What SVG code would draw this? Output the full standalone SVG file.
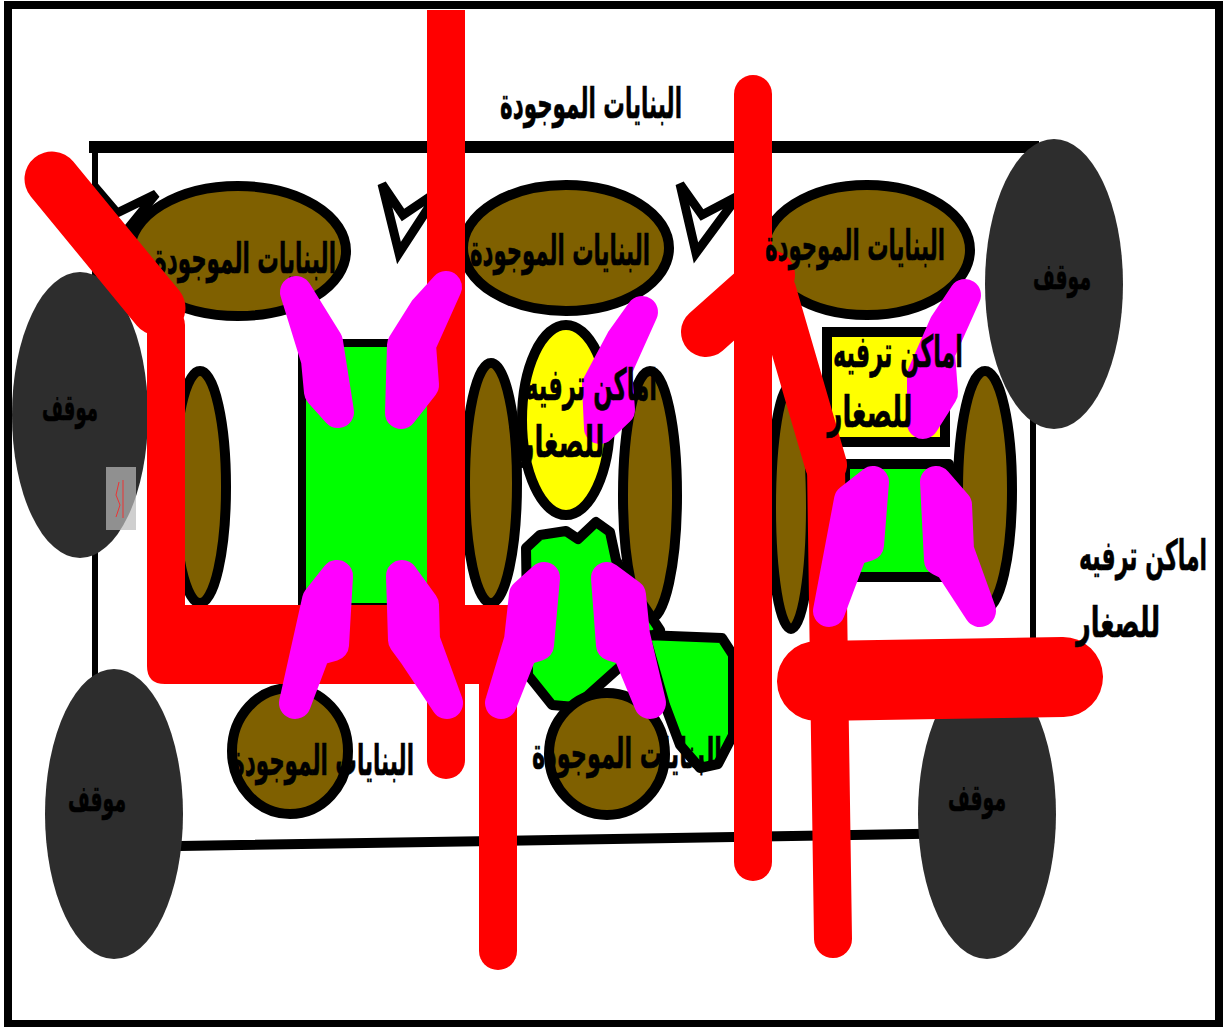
<svg xmlns="http://www.w3.org/2000/svg" width="1223" height="1027" viewBox="0 0 1223 1027">
<style>
.b{fill:#7f6000;stroke:#000;stroke-width:10}
.g{fill:#0f0;stroke:#000;stroke-width:10;stroke-linejoin:round}
.y{fill:#ff0;stroke:#000;stroke-width:10}
.p{fill:#2d2d2d}
.l{fill:none;stroke:#000;stroke-linecap:square}
.v{fill:#fff;stroke:#000;stroke-width:9;stroke-linejoin:miter}
.r{fill:none;stroke:#f00;stroke-linecap:round;stroke-linejoin:round}
.m{fill:#f0f;stroke:#f0f;stroke-width:32;stroke-linejoin:round}
text{font-family:"DejaVu Sans","Noto Sans",sans-serif;font-weight:bold;fill:#000;stroke:#000;stroke-width:.6;text-anchor:middle;direction:rtl}
</style>
<rect width="1223" height="1027" fill="#fff"/>
<g id="frame">
<path class="l" stroke-width="12" d="M95 147H1033"/>
<path class="l" stroke-width="6" d="M95 147V680"/>
<path class="l" stroke-width="6" d="M1033 147V832"/>
<path class="l" stroke-width="10" d="M1033 832L185 846"/>
</g>
<g id="ticks">
<path class="v" d="M94 186L117 213L156 194L121 237Z"/>
<path class="v" d="M382 184L403 215L440 190L399 253Z"/>
<path class="v" d="M680 184L702 215L738 196L696 253Z"/>
</g>
<g id="parking-left"><ellipse class="p" cx="80" cy="415" rx="68" ry="143"/><text x="70" y="420" font-size="36" textLength="56" lengthAdjust="spacingAndGlyphs">موقف</text><rect x="106" y="467" width="30" height="63" fill="#bbb" fill-opacity=".7"/><path d="M123 480V518M119 482L116 495L120 505L116 517" fill="none" stroke="#e33" stroke-width="1"/></g>
<g id="parking-bl"><ellipse class="p" cx="114" cy="814" rx="69" ry="145"/><text x="97" y="811" font-size="36" textLength="58" lengthAdjust="spacingAndGlyphs">موقف</text></g>
<g id="parking-tr"><ellipse class="p" cx="1054" cy="284" rx="69" ry="145"/><text x="1062" y="289" font-size="36" textLength="58" lengthAdjust="spacingAndGlyphs">موقف</text></g>
<g id="parking-br"><ellipse class="p" cx="987" cy="814" rx="69" ry="145"/><text x="977" y="810" font-size="36" textLength="58" lengthAdjust="spacingAndGlyphs">موقف</text></g>
<g id="b1"><ellipse class="b" cx="238" cy="251" rx="108" ry="65"/><text x="245" y="273" font-size="42" textLength="182" lengthAdjust="spacingAndGlyphs">البنايات الموجودة</text></g>
<g id="b2"><ellipse class="b" cx="566" cy="248" rx="103" ry="63"/><text x="560" y="265" font-size="42" textLength="180" lengthAdjust="spacingAndGlyphs">البنايات الموجودة</text></g>
<g id="b3"><ellipse class="b" cx="867" cy="250" rx="103" ry="65"/></g>
<g id="b4"><ellipse class="b" cx="200" cy="487" rx="26" ry="116"/></g>
<g id="b5"><ellipse class="b" cx="491" cy="483" rx="26" ry="120"/></g>
<g id="b6"><ellipse class="b" cx="650" cy="495" rx="27" ry="124"/></g>
<g id="b7"><ellipse class="b" cx="791" cy="507" rx="20" ry="122"/></g>
<g id="b8"><ellipse class="b" cx="985" cy="490" rx="27" ry="119"/></g>
<g id="g1"><rect class="g" x="302" y="343" width="144" height="264" style="stroke-width:8"/></g>
<g id="y1"><ellipse class="y" cx="566" cy="420" rx="44" ry="95"/></g>
<g id="y2"><rect class="y" x="827" y="332" width="118" height="110"/></g>
<g id="g2"><rect class="g" x="845" y="464" width="104" height="113"/></g>
<g id="g3"><path class="g" d="M526 548L540 535L566 531L578 539L596 522L610 532L616 560L640 600L660 630L622 665L575 707L552 705L528 675Z"/></g>
<g id="g4"><path class="g" d="M645 635L722 638L733 655L733 735L718 764L700 768L680 745L665 705Z"/></g>
<g id="b9"><ellipse class="b" cx="290" cy="751" rx="58" ry="63"/></g>
<g id="b10"><ellipse class="b" cx="607" cy="754" rx="58" ry="61"/></g>
<text x="591" y="118" font-size="42" textLength="182" lengthAdjust="spacingAndGlyphs">البنايات الموجودة</text>
<text x="323" y="775" font-size="42" textLength="182" lengthAdjust="spacingAndGlyphs">البنايات الموجودة</text>
<text x="627" y="768" font-size="42" textLength="190" lengthAdjust="spacingAndGlyphs">البنايات الموجودة</text>
<g id="connectors">
<path class="r" stroke-width="55" d="M52 179L158 308"/>
<path d="M147 345L183 318V660H147Z" fill="#f00"/>
<path class="r" stroke-width="38" d="M166 325V660"/>
<path d="M147 605H510V684H165Q147 684 147 666Z" fill="#f00"/>
<path d="M427 10H465V760A19 19 0 0 1 427 760Z" fill="#f00"/>
<path class="r" stroke-width="38" d="M498 640V951"/>
<path class="r" stroke-width="38" d="M753 94V862"/>
<path class="r" stroke-width="50" d="M706 332L770 275"/>
<path class="r" stroke-width="42" d="M775 290L826 465"/>
<path class="r" stroke-width="38" d="M826 465L833 939"/>
<path class="r" stroke-width="80" d="M817 681L1063 677"/>
<polygon class="m" points="296,292 327,342 338,412 320,392 317,360"/>
<polygon class="m" points="446,287 420,345 423,385 401,413 403,345 425,310"/>
<polygon class="m" points="642,312 616,370 619,410 600,428 598,385 622,340"/>
<polygon class="m" points="965,295 939,353 942,393 923,423 923,375 945,325"/>
<polygon class="m" points="337,576 333,645 315,650 295,703 318,600"/>
<polygon class="m" points="402,576 423,605 424,640 447,703 415,655 404,640"/>
<polygon class="m" points="544,578 538,645 522,650 501,703 520,640 525,595"/>
<polygon class="m" points="607,578 630,595 634,635 650,703 628,650 612,645"/>
<polygon class="m" points="873,482 868,545 852,550 829,611 850,500"/>
<polygon class="m" points="936,482 956,505 958,550 980,611 950,565 940,560"/>
</g>
<text x="855" y="260" font-size="42" textLength="180" lengthAdjust="spacingAndGlyphs">البنايات الموجودة</text>
<text x="591" y="400" font-size="44" textLength="132" lengthAdjust="spacingAndGlyphs">اماكن ترفيه</text>
<text x="562" y="457" font-size="44" textLength="85" lengthAdjust="spacingAndGlyphs">للصغار</text>
<text x="898" y="367" font-size="44" textLength="130" lengthAdjust="spacingAndGlyphs">اماكن ترفيه</text>
<text x="870" y="427" font-size="44" textLength="85" lengthAdjust="spacingAndGlyphs">للصغار</text>
<text x="1143" y="570" font-size="42" textLength="128" lengthAdjust="spacingAndGlyphs">اماكن ترفيه</text>
<text x="1118" y="637" font-size="42" textLength="84" lengthAdjust="spacingAndGlyphs">للصغار</text>
<rect id="border" x="8" y="5" width="1211" height="1019" fill="none" stroke="#000" stroke-width="8"/>
</svg>
